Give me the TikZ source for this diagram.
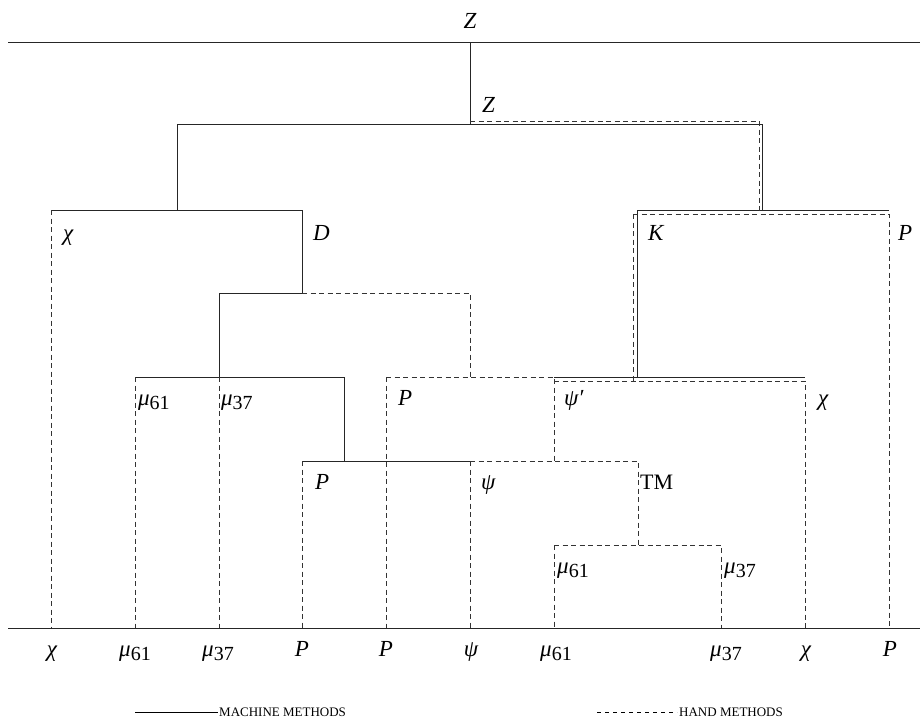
\documentclass[tikz,border=0pt]{standalone}
\usepackage{fontspec}
\setmainfont{Liberation Serif}
\newcommand{\lsub}[1]{\raisebox{-4pt}{\fontsize{20}{20}\selectfont\upshape #1}}
\begin{document}
\begin{tikzpicture}[x=1pt,y=-1pt,
  machine/.style={line width=0.9pt,black!85},
  hand/.style={line width=0.9pt,black!80,dash pattern=on 5pt off 3.5pt},
  lab/.style={anchor=base west,inner sep=0pt,font=\fontsize{23}{23}\selectfont\itshape},
  leaf/.style={anchor=base,inner sep=0pt,font=\fontsize{23}{23}\selectfont\itshape},
  legend/.style={anchor=base west,inner sep=0pt,font=\fontsize{13}{13}\selectfont}]
\useasboundingbox (0,0) rectangle (920,718);

% frame lines
\coordinate (topL) at (8,42);   \coordinate (topR) at (920,42);
\coordinate (baseL) at (8,628); \coordinate (baseR) at (920,628);
\draw[machine] (topL) -- (topR);
\draw[machine] (baseL) -- (baseR);

% leaves on the base line
\foreach \n/\x in {chiA/51,muA/135,muB/219,pA/302,pB/386,psi/470,muC/554,muD/721,chiB/805,pC/889}
  \coordinate (\n) at (\x,628);

% junction points
\coordinate (zTop) at (470,42);
\coordinate (zM) at (470,124);   \coordinate (zL) at (177,124);  \coordinate (zR) at (762,124);
\coordinate (zHa) at (470,121);  \coordinate (zHb) at (759,121);
\coordinate (cL) at (51,210);    \coordinate (cM) at (177,210);  \coordinate (dR) at (302,210);
\coordinate (kL) at (637,210);   \coordinate (kM) at (762,210);  \coordinate (kR) at (889,210);
\coordinate (kHa) at (633,214);  \coordinate (kHm) at (759,214); \coordinate (kHb) at (889,214);
\coordinate (dL) at (219,293);   \coordinate (dM) at (302,293);  \coordinate (dH) at (470,293);
\coordinate (mL) at (135,377);   \coordinate (mM) at (219,377);  \coordinate (mR) at (344,377);
\coordinate (pL) at (386,377);   \coordinate (pM) at (470,377);  \coordinate (sL) at (554,377);
\coordinate (kB) at (637,377);   \coordinate (xR) at (805,377);
\coordinate (kHc) at (633,381);  \coordinate (sHa) at (554,381); \coordinate (xHb) at (805,381);
\coordinate (qL) at (302,461);   \coordinate (qM) at (344,461);  \coordinate (qR) at (470,461);
\coordinate (sB) at (554,461);   \coordinate (tR) at (638,461);
\coordinate (tB) at (638,545);   \coordinate (uL) at (554,545);  \coordinate (uR) at (721,545);

% machine methods
\draw[machine] (zTop) -- (zM);
\draw[machine] (zL) |- (zR) -- (kM);
\draw[machine] (zL) -- (cM);
\draw[machine] (cL) -- (dR) -- (dM);
\draw[machine] (dL) -- (dM);
\draw[machine] (dL) -- (mM);
\draw[machine] (mL) -- (mR) -- (qM);
\draw[machine] (qL) -- (qR);
\draw[machine] (kL) -- (kR);
\draw[machine] (kL) -- (kB);
\draw[machine] (sL) -- (xR);

% hand methods
\draw[hand] (zHa) -- (zHb) -- (kHm);
\draw[hand] (kHa) -- (kHb) -- (pC);
\draw[hand] (kHa) -- (kHc);
\draw[hand] (sHa) -- (xHb) -- (chiB);
\draw[hand] (cL) -- (chiA);
\draw[hand] (dM) -- (dH) -- (pM);
\draw[hand] (pL) -- (sL) -- (sB);
\draw[hand] (pL) -- (pB);
\draw[hand] (qR) -- (tR) -- (tB);
\draw[hand] (qR) -- (psi);
\draw[hand] (uL) -- (uR) -- (muD);
\draw[hand] (uL) -- (muC);
\draw[hand] (mL) -- (muA);
\draw[hand] (mM) -- (muB);
\draw[hand] (qL) -- (pA);

% labels at the junctions
\node[leaf] (lZtop) at (470,28) {Z};
\node[lab] (lZ) at (482,112) {Z};
\node[lab] (lchi1) at (63,240) {χ};
\node[lab] (lD) at (313,240) {D};
\node[lab] (lK) at (648,240) {K};
\node[lab] (lP1) at (898,240) {P};
\node[lab] (lmu1) at (138,405) {μ\lsub{61}};
\node[lab] (lmu2) at (221,405) {μ\lsub{37}};
\node[lab] (lP2) at (398,405) {P};
\node[lab] (lpsi1) at (564,405) {ψ′};
\node[lab] (lchi2) at (818,405) {χ};
\node[lab] (lP3) at (315,489) {P};
\node[lab] (lpsi2) at (481,489) {ψ};
\node[lab,font=\fontsize{22}{22}\selectfont\upshape] (lTM) at (640,489) {TM};
\node[lab] (lmu3) at (557,573) {μ\lsub{61}};
\node[lab] (lmu4) at (724,573) {μ\lsub{37}};

% labels under the base line
\node[leaf] (bchiA) at (52,656) {χ};
\node[leaf] (bmuA) at (135,656) {μ\lsub{61}};
\node[leaf] (bmuB) at (218,656) {μ\lsub{37}};
\node[leaf] (bpA) at (302,656) {P};
\node[leaf] (bpB) at (386,656) {P};
\node[leaf] (bpsi) at (471,656) {ψ};
\node[leaf] (bmuC) at (556,656) {μ\lsub{61}};
\node[leaf] (bmuD) at (726,656) {μ\lsub{37}};
\node[leaf] (bchiB) at (806,656) {χ};
\node[leaf] (bpC) at (890,656) {P};

% legend
\coordinate (legA) at (135,712); \coordinate (legB) at (218,712);
\draw[line width=0.9pt] (legA) -- (legB);
\node[legend] (legM) at (219,716) {MACHINE METHODS};
\coordinate (legC) at (597,712); \coordinate (legD) at (677,712);
\draw[line width=0.8pt,dash pattern=on 4pt off 4pt] (legC) -- (legD);
\node[legend] (legH) at (679,716) {HAND METHODS};
\end{tikzpicture}
\end{document}
